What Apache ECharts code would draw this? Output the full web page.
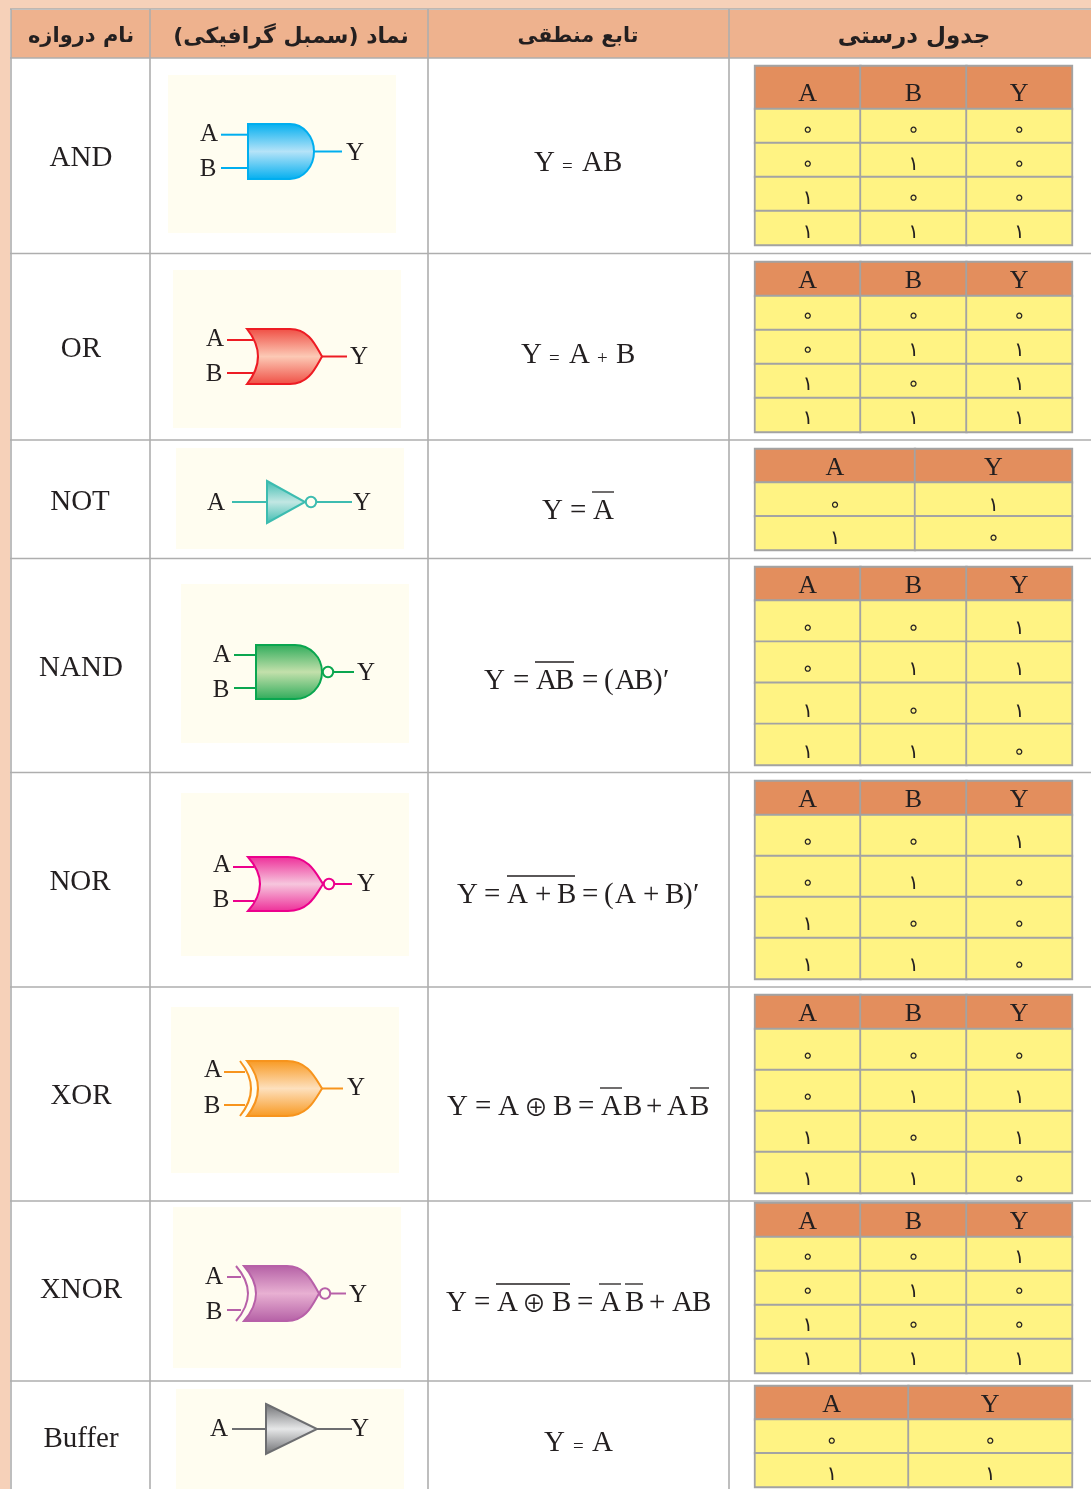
<!DOCTYPE html>
<html lang="fa">
<head>
<meta charset="utf-8">
<style>html,body{margin:0;padding:0;background:#fff}#c{width:1091px;height:1489px}</style>
<script src="https://cdn.jsdelivr.net/npm/echarts@6/dist/echarts.min.js"></script>
</head>
<body>
<div id="c"></div>
<script>
// ---------- content ----------
const columnHeaders = ['نام دروازه', 'نماد (سمبل گرافیکی)', 'تابع منطقی', 'جدول درستی'];
const gateNames = ['AND', 'OR', 'NOT', 'NAND', 'NOR', 'XOR', 'XNOR', 'Buffer'];
const digits = ['∘', '۱'];
const twoInput = ['A', 'B', 'Y'];
const oneInput = ['A', 'Y'];
const andRows  = [[0,0,0],[0,1,0],[1,0,0],[1,1,1]];
const orRows   = [[0,0,0],[0,1,1],[1,0,1],[1,1,1]];
const notRows  = [[0,1],[1,0]];
const nandRows = [[0,0,1],[0,1,1],[1,0,1],[1,1,0]];
const norRows  = [[0,0,1],[0,1,0],[1,0,0],[1,1,0]];
const xorRows  = [[0,0,0],[0,1,1],[1,0,1],[1,1,0]];
const xnorRows = [[0,0,1],[0,1,0],[1,0,0],[1,1,1]];
const bufRows  = [[0,0],[1,1]];
const tableRows = [andRows, orRows, notRows, nandRows, norRows, xorRows, xnorRows, bufRows];

// formula tokens
const fAnd  = ['Y','=','A','B'];
const fOr   = ['Y','=','A','+','B'];
const fNot  = ['Y','=','A'];
const fNand = ['Y','=','A','B','=','(','A','B',')','′'];
const fNor  = ['Y','=','A','+','B','=','(','A','+','B',')','′'];
const fXor  = ['Y','=','A','⊕','B','=','A','B','+','A','B'];
const fXnor = ['Y','=','A','⊕','B','=','A','B','+','A','B'];
const fBuf  = ['Y','=','A'];
const formulas = [fAnd, fOr, fNot, fNand, fNor, fXor, fXnor, fBuf];

// ---------- layout ----------
const SERIF = '"Liberation Serif"';
const INK = '#231f20';
const LINE = '#aeaeae';
const colX = [11, 150, 428, 729, 1092];
const rowY = [58, 253.5, 440, 558.5, 772.5, 987, 1201, 1381];
const headerCentersX = [81, 291, 578, 914];
const headerSizes = [21, 22, 20.5, 23];
const nameCentersY = [158, 349, 502, 668, 882, 1096, 1290, 1439];
const nameCentersX = [81, 81, 80, 81, 80, 81, 81, 81];

// token left x, baseline, overbars
const formulaX = [
  [534, 562, 582, 603],
  [521, 549, 569, 597, 616],
  [542, 570, 593],
  [484, 513, 536, 555, 582, 604, 615, 634, 653, 663],
  [457, 484, 507, 535, 557, 582, 604, 615, 643, 665, 683, 693],
  [447, 475, 498, 524, 553, 578, 601, 623, 646, 667, 690],
  [446, 474, 497, 522, 552, 577, 600, 625, 649, 672, 692],
  [544, 573, 592]
];
const formulaBase = [173.5, 365.5, 521.5, 691.5, 905.5, 1117.5, 1313.5, 1453.5];
const smallOps = [true, true, false, false, false, false, false, true];
const formulaBars = [
  [], [], [[592,614,492]], [[535,574,662]], [[507,575,876]],
  [[600,622,1088],[690,709,1088]],
  [[496,570,1284],[599,621,1284],[625,643,1284]], []
];

// truth-table layout: column edges, header top, row edges, text nudges
const tableColEdges = [
  [755,860.5,966.5,1072],[755,860.5,966.5,1072],[755,915,1072],[755,860.5,966.5,1072],
  [755,860.5,966.5,1072],[755,860.5,966.5,1072],[755,860.5,966.5,1072],[755,908.5,1072]
];
const tableRowEdges = [
  [66,109,245],[262,296,432],[449,482.5,550],[567,600.5,765],
  [781,815,979],[995,1029,1193],[1203,1237,1373],[1386,1419.5,1487]
];
const headNudge = [7, 2, 2, 2, 2, 2, 2, 2];
const bodyNudge = [5, 4, 6, 8, 7, 7, 4, 5];
const HEAD_FILL = '#e38e5d', BODY_FILL = '#fff383', CELL_LINE = '#a3a3a3';

// gate palette: [stroke, edge, centre]
const gatePaint = [
  ['#00aeef','#00aeef','#b5e3f8'],
  ['#ed1c24','#ef4c42','#fcc9b5'],
  ['#3dbcb0','#3dbcb0','#c2e7e3'],
  ['#0aa64f','#2dab5a','#c3e0ab'],
  ['#ec008c','#ee2c98','#f6c6dd'],
  ['#f7941d','#f8981f','#fde0bd'],
  ['#b760a8','#b45fa5','#e8b0d2'],
  ['#6d6e71','#6d6e71','#e6e7e8']
];
// bg:[x0,y0,x1,y1]; kind; geometry
const gateLayout = [
  {bg:[168,75,396,233], kind:'and', l:248, t:124, b:179, s:290, tip:314, a:134.7, c:168, inX:221, outX:342, la:[209,134], lb:[208,169], ly:[355,153]},
  {bg:[173,270,401,428], kind:'or', l:247, t:329, b:384, back:258, s:290, tip:322, a:340, c:373, inX:227, outX:347, la:[215,339], lb:[214,374], ly:[359,357]},
  {bg:[176,448,404,549], kind:'tri', l:267, t:481, b:523, tip:305, inX:232, outX:352, bubble:true, la:[216,503], ly:[362,503]},
  {bg:[181,584,409,743], kind:'and', l:256, t:645, b:699, s:295, tip:322, a:655, c:688, inX:234, outX:354, bubble:true, la:[222,655], lb:[221,690], ly:[366,673]},
  {bg:[181,793,409,956], kind:'or', l:248, t:857, b:911, back:260, s:288, tip:323, a:867, c:901, inX:233, outX:352, bubble:true, la:[222,865], lb:[221,900], ly:[366,884]},
  {bg:[171,1007,399,1173], kind:'or', l:247, t:1061, b:1116, back:258, s:287, tip:322, a:1072, c:1105, inX:224, outX:343, xl:240, xm:251, la:[213,1070], lb:[212,1106], ly:[356,1088]},
  {bg:[173,1207,401,1368], kind:'or', l:244, t:1266, b:1321, back:256, s:287, tip:319, a:1277, c:1310, inX:227, outX:346, bubble:true, xl:236, xm:248, la:[214,1277], lb:[214,1312], ly:[358,1295]},
  {bg:[176,1389,404,1489], kind:'tri', l:266, t:1404, b:1454, tip:317, inX:232, outX:352, la:[219,1429], ly:[360,1429]}
];

// ---------- frame ----------
const graphicEls = [
  {type:'rect', shape:{x:0,y:0,width:1091,height:9}, style:{fill:'#f6d1b9'}, z:0},
  {type:'rect', shape:{x:0,y:0,width:10,height:1489}, style:{fill:'#f6d1b9'}, z:0},
  {type:'rect', shape:{x:11,y:10,width:1080,height:48}, style:{fill:'#eeb28e'}, z:0}
];
function hLine(y, x0){ graphicEls.push({type:'line', shape:{x1:x0||10,y1:y,x2:1091,y2:y}, style:{stroke:LINE,lineWidth:1.6}, z:1}); }
function vLine(x){ graphicEls.push({type:'line', shape:{x1:x,y1:9,x2:x,y2:1489}, style:{stroke:LINE,lineWidth:1.6}, z:1}); }
hLine(9); rowY.forEach(y => hLine(y));
colX.slice(0,4).forEach(vLine);
columnHeaders.forEach((t,i) => graphicEls.push({
  type:'text', z:3, style:{x:headerCentersX[i], y:37, text:'\u202B'+t+'\u202C', align:'center', verticalAlign:'middle',
    font:'bold '+headerSizes[i]+'px "DejaVu Sans"', fill:INK}
}));
gateNames.forEach((t,i) => graphicEls.push({
  type:'text', z:3, style:{x:nameCentersX[i], y:nameCentersY[i], text:t, align:'center', verticalAlign:'middle',
    font:'29px '+SERIF, fill:INK}
}));

// ---------- truth tables: one heatmap per header cell / body column ----------
const grids = [], xAxes = [], yAxes = [], series = [];
function addGrid(x0, x1, y0, y1, xData, yData){
  const i = grids.length;
  grids.push({left:x0, top:y0, width:x1-x0, height:y1-y0, show:false});
  xAxes.push({type:'category', gridIndex:i, data:xData, show:false});
  yAxes.push({type:'category', gridIndex:i, data:yData, show:false, inverse:true});
  return i;
}
function addCells(g, data, fill, fmt, font, size, dy){
  series.push({
    type:'heatmap', xAxisIndex:g, yAxisIndex:g, data:data, silent:true, animation:false, progressive:0,
    itemStyle:{color:fill, borderColor:CELL_LINE, borderWidth:1.8},
    label:{show:true, formatter:fmt, fontFamily:font, fontSize:size, color:INK, offset:[0,dy]}
  });
}
tableRows.forEach((rows, t) => {
  const names = rows[0].length === 3 ? twoInput : oneInput;
  const ex = tableColEdges[t], ey = tableRowEdges[t];
  names.forEach((name, c) => {
    const gh = addGrid(ex[c], ex[c+1], ey[0], ey[1], [name], ['h']);
    addCells(gh, [[0,0,1]], HEAD_FILL, () => name, 'Liberation Serif', 26, headNudge[t]);
    const gb = addGrid(ex[c], ex[c+1], ey[1], ey[2], [name], rows.map((r,i)=>String(i)));
    addCells(gb, rows.map((r,i)=>[0,i,r[c]]), BODY_FILL, p => digits[p.value[2]], 'DejaVu Sans', 20, bodyNudge[t]);
  });
});

// ---------- gates & formulas ----------
function vGrad(edge, mid){
  return {type:'linear',x:0,y:0,x2:0,y2:1,colorStops:[{offset:0,color:edge},{offset:.5,color:mid},{offset:1,color:edge}]};
}
function gatePath(g){
  const m = (g.t+g.b)/2, h = g.b-g.t;
  if (g.kind === 'tri') return `M${g.l} ${g.t}L${g.tip} ${m}L${g.l} ${g.b}Z`;
  if (g.kind === 'and') return `M${g.l} ${g.t}L${g.s} ${g.t}A${g.tip-g.s} ${h/2} 0 0 1 ${g.s} ${g.b}L${g.l} ${g.b}Z`;
  const w = g.tip-g.s, ctrl = 2*g.back-g.l;
  return `M${g.l} ${g.t}L${g.s} ${g.t}C${g.s+w*.6} ${g.t} ${g.tip-w*.2} ${g.t+h*.3} ${g.tip} ${m}`+
    `C${g.tip-w*.2} ${g.b-h*.3} ${g.s+w*.6} ${g.b} ${g.s} ${g.b}L${g.l} ${g.b}Q${ctrl} ${m} ${g.l} ${g.t}Z`;
}
function seg(x1,y1,x2,y2,stroke,w){
  return {type:'line', shape:{x1,y1,x2,y2}, style:{stroke, lineWidth:w||2}};
}
function label(t,p){
  return {type:'text', style:{x:p[0],y:p[1],text:t,align:'center',verticalAlign:'middle',font:'25px '+SERIF,fill:INK}};
}
function renderGate(params){
  const i = params.dataIndex, g = gateLayout[i], p = gatePaint[i], s = p[0];
  const m = (g.t+g.b)/2, kids = [];
  kids.push({type:'rect', shape:{x:g.bg[0],y:g.bg[1],width:g.bg[2]-g.bg[0],height:g.bg[3]-g.bg[1]}, style:{fill:'#fffdf0'}});
  const outStart = g.bubble ? g.tip+12 : g.tip;
  if (g.kind === 'tri') kids.push(seg(g.inX,m,g.l,m,s));
  else {
    const backX = g.kind==='and' ? g.l : (g.xl ? g.xl+5 : g.l+6);
    kids.push(seg(g.inX,g.a,backX,g.a,s), seg(g.inX,g.c,backX,g.c,s));
  }
  kids.push(seg(outStart,m,g.outX,m,s));
  if (g.xl) {
    const ctrl = 2*g.xm-g.xl;
    kids.push({type:'path', shape:{pathData:`M${g.xl} ${g.t}Q${ctrl} ${m} ${g.xl} ${g.b}`}, style:{fill:'none',stroke:s,lineWidth:2}});
  }
  kids.push({type:'path', shape:{pathData:gatePath(g)}, style:{fill:vGrad(p[1],p[2]),stroke:s,lineWidth:2}});
  if (g.bubble) kids.push({type:'circle', shape:{cx:g.tip+6,cy:m,r:5.2}, style:{fill:'#fffdf0',stroke:s,lineWidth:2}});
  kids.push(label('A',g.la));
  if (g.lb) kids.push(label('B',g.lb));
  kids.push(label('Y',g.ly));
  return {type:'group', children:kids};
}
function renderFormula(params){
  const i = params.dataIndex, kids = [], base = formulaBase[i];
  formulas[i].forEach((tok,k) => {
    const small = smallOps[i] && (tok==='='||tok==='+');
    const isX = tok==='⊕';
    kids.push({type:'text', style:{x:formulaX[i][k], y: isX ? base-11 : (small ? base-6.5 : base-10), text:tok, align:'left', verticalAlign:'middle',
      font:(isX?'24px "Noto Sans CJK SC"':(small?'19px ':'29px ')+SERIF), fill:INK}});
  });
  formulaBars[i].forEach(b => kids.push(seg(b[0],b[2],b[1],b[2],INK,1.3)));
  return {type:'group', children:kids};
}
series.push({type:'custom', coordinateSystem:'none', data:gateNames.map((n,i)=>i), renderItem:renderGate, silent:true, animation:false, z:5, clip:false});
series.push({type:'custom', coordinateSystem:'none', data:gateNames.map((n,i)=>i), renderItem:renderFormula, silent:true, animation:false, z:5, clip:false});

const chart = echarts.init(document.getElementById('c'), null, {renderer:'canvas', width:1091, height:1489});
chart.setOption({
  animation:false, backgroundColor:'#ffffff', tooltip:{show:false},
  graphic:{elements:graphicEls}, grid:grids, xAxis:xAxes, yAxis:yAxes, series:series
});
</script>
</body>
</html>
